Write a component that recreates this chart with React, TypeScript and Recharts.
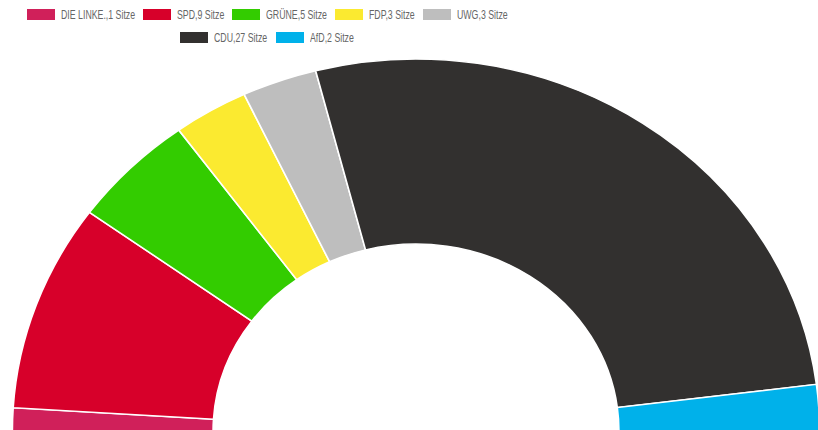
import React from "react";
import { PieChart, Pie, Cell } from "recharts";

const parties = ["DIE LINKE.", "SPD", "GRÜNE", "FDP", "UWG", "CDU", "AfD"];
const seats = [1, 9, 5, 3, 3, 27, 2];
const colors = ["#D0205A", "#D7002A", "#33CC00", "#FBEA30", "#BEBEBE", "#32302F", "#00B1EA"];

const data = parties.map((p, i) => ({ name: p, seats: seats[i], color: colors[i] }));
const rows = [data.slice(0, 5), data.slice(5)];

const FONT = "13px 'Liberation Sans', Arial, sans-serif";
const SQUEEZE = 0.675;

let ctx: CanvasRenderingContext2D | null = null;
function measure(t: string): number {
  if (!ctx) ctx = document.createElement("canvas").getContext("2d");
  if (!ctx) return t.length * 6.5;
  ctx.font = FONT;
  return ctx.measureText(t).width;
}

const LegendItem = ({ d }: { d: { name: string; seats: number; color: string } }) => {
  const label = `${d.name},${d.seats} Sitze`;
  const w = measure(label);
  return (
    <div style={{ display: "flex", alignItems: "center", margin: "0 4px", flexShrink: 0 }}>
      <span style={{ display: "inline-block", width: 28, height: 11, background: d.color, marginRight: 6, flexShrink: 0 }} />
      <span style={{ display: "inline-block", width: w * SQUEEZE, height: 15, position: "relative", flexShrink: 0 }}>
        <span
          style={{
            position: "absolute",
            left: 0,
            top: 0,
            whiteSpace: "nowrap",
            transform: `scaleX(${SQUEEZE})`,
            transformOrigin: "0 0",
            lineHeight: "15px",
          }}
        >
          {label}
        </span>
      </span>
    </div>
  );
};

export default function App() {
  return (
    <div style={{ position: "absolute", left: 0, top: 0, width: 818, height: 430, overflow: "hidden" }}>
      <style>{`body{margin:0} .recharts-pie{transform:scaleX(1.085);transform-origin:416px 431px;}`}</style>
      <PieChart width={818} height={430} margin={{ top: 0, right: 0, bottom: 0, left: 0 }}>
        <Pie
          data={data}
          dataKey="seats"
          nameKey="name"
          cx={416}
          cy={431}
          innerRadius={187}
          outerRadius={372}
          startAngle={180}
          endAngle={0}
          stroke="#fff"
          strokeWidth={1.5}
          isAnimationActive={false}
        >
          {data.map((d) => (
            <Cell key={d.name} fill={d.color} />
          ))}
        </Pie>
      </PieChart>
      <div
        style={{
          position: "absolute",
          left: 0,
          top: 3,
          width: 534,
          fontFamily: "'Liberation Sans', Arial, sans-serif",
          fontSize: 13,
          color: "#666",
        }}
      >
        {rows.map((row, ri) => (
          <div key={ri} style={{ display: "flex", justifyContent: "center", height: 23, alignItems: "center" }}>
            {row.map((d) => (
              <LegendItem key={d.name} d={d} />
            ))}
          </div>
        ))}
      </div>
    </div>
  );
}
